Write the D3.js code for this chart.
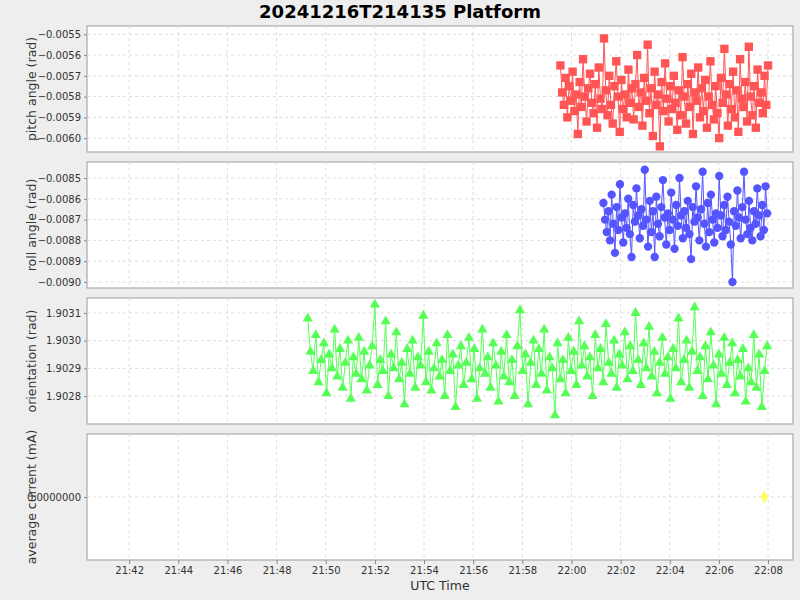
<!DOCTYPE html>
<html><head><meta charset="utf-8">
<script src="https://cdn.jsdelivr.net/npm/d3@7"></script>
<style>body{margin:0;background:#eeeeee;font-family:"DejaVu Sans",sans-serif}</style>
</head><body><svg id="c" width="800" height="600"></svg>
<script>
const title = "20241216T214135 Platform";
const xTicks = ["21:42","21:44","21:46","21:48","21:50","21:52","21:54","21:56","21:58","22:00","22:02","22:04","22:06","22:08"];
const pitchStart = "21:59:33", pitchEnd = "22:08:00";
const pitchValues = [-0.00565,-0.00578,-0.00584,-0.00571,-0.00590,-0.00575,-0.00582,-0.00568,-0.00587,-0.00579,-0.00598,-0.00573,-0.00585,-0.00562,-0.00580,-0.00592,-0.00576,-0.00569,-0.00583,-0.00588,-0.00574,-0.00595,-0.00566,-0.00581,-0.00586,-0.00552,-0.00577,-0.00589,-0.00570,-0.00584,-0.00593,-0.00575,-0.00563,-0.00580,-0.00597,-0.00572,-0.00586,-0.00579,-0.00590,-0.00567,-0.00583,-0.00576,-0.00591,-0.00574,-0.00560,-0.00585,-0.00578,-0.00594,-0.00571,-0.00582,-0.00555,-0.00588,-0.00576,-0.00599,-0.00568,-0.00584,-0.00579,-0.00604,-0.00573,-0.00587,-0.00564,-0.00581,-0.00592,-0.00575,-0.00586,-0.00570,-0.00583,-0.00596,-0.00577,-0.00589,-0.00561,-0.00580,-0.00593,-0.00574,-0.00585,-0.00569,-0.00598,-0.00578,-0.00582,-0.00566,-0.00590,-0.00576,-0.00587,-0.00572,-0.00595,-0.00580,-0.00563,-0.00584,-0.00591,-0.00575,-0.00588,-0.00600,-0.00571,-0.00583,-0.00557,-0.00579,-0.00594,-0.00574,-0.00586,-0.00568,-0.00590,-0.00577,-0.00597,-0.00562,-0.00581,-0.00585,-0.00573,-0.00592,-0.00556,-0.00580,-0.00589,-0.00575,-0.00595,-0.00567,-0.00583,-0.00578,-0.00588,-0.00570,-0.00584,-0.00565];
const rollStart = "22:01:18", rollEnd = "22:07:58";
const rollValues = [-0.00862,-0.00870,-0.00876,-0.00866,-0.00880,-0.00858,-0.00872,-0.00886,-0.00864,-0.00875,-0.00853,-0.00869,-0.00881,-0.00867,-0.00874,-0.00860,-0.00877,-0.00888,-0.00863,-0.00871,-0.00855,-0.00868,-0.00879,-0.00865,-0.00873,-0.00846,-0.00870,-0.00883,-0.00861,-0.00876,-0.00866,-0.00888,-0.00859,-0.00872,-0.00878,-0.00864,-0.00851,-0.00869,-0.00882,-0.00867,-0.00875,-0.00857,-0.00870,-0.00884,-0.00863,-0.00873,-0.00850,-0.00868,-0.00879,-0.00866,-0.00874,-0.00861,-0.00877,-0.00889,-0.00864,-0.00871,-0.00854,-0.00869,-0.00880,-0.00865,-0.00847,-0.00872,-0.00883,-0.00862,-0.00876,-0.00858,-0.00870,-0.00881,-0.00867,-0.00874,-0.00849,-0.00868,-0.00878,-0.00863,-0.00875,-0.00859,-0.00871,-0.00882,-0.00900,-0.00866,-0.00873,-0.00856,-0.00869,-0.00879,-0.00864,-0.00847,-0.00870,-0.00877,-0.00861,-0.00874,-0.00880,-0.00866,-0.00872,-0.00855,-0.00868,-0.00878,-0.00863,-0.00875,-0.00854,-0.00867];
const orientStart = "21:49:16", orientEnd = "22:07:58";
const orientValues = [1.90308,1.90296,1.90289,1.90302,1.90285,1.90293,1.90299,1.90281,1.90295,1.90290,1.90304,1.90287,1.90297,1.90283,1.90292,1.90300,1.90279,1.90294,1.90288,1.90301,1.90286,1.90296,1.90282,1.90291,1.90298,1.90313,1.90284,1.90293,1.90289,1.90307,1.90280,1.90295,1.90290,1.90303,1.90286,1.90292,1.90277,1.90297,1.90288,1.90300,1.90283,1.90294,1.90291,1.90309,1.90285,1.90296,1.90282,1.90290,1.90299,1.90287,1.90293,1.90280,1.90302,1.90289,1.90295,1.90276,1.90291,1.90298,1.90284,1.90292,1.90301,1.90286,1.90297,1.90279,1.90290,1.90304,1.90288,1.90294,1.90283,1.90299,1.90291,1.90278,1.90296,1.90287,1.90302,1.90285,1.90293,1.90280,1.90298,1.90311,1.90289,1.90295,1.90277,1.90292,1.90300,1.90284,1.90297,1.90288,1.90304,1.90282,1.90294,1.90290,1.90273,1.90299,1.90286,1.90293,1.90281,1.90301,1.90289,1.90296,1.90284,1.90307,1.90291,1.90298,1.90287,1.90294,1.90280,1.90302,1.90290,1.90297,1.90285,1.90306,1.90292,1.90288,1.90300,1.90283,1.90295,1.90291,1.90303,1.90286,1.90298,1.90289,1.90310,1.90293,1.90284,1.90299,1.90290,1.90305,1.90287,1.90296,1.90281,1.90292,1.90301,1.90288,1.90294,1.90279,1.90297,1.90290,1.90308,1.90285,1.90293,1.90300,1.90283,1.90296,1.90312,1.90289,1.90294,1.90280,1.90298,1.90286,1.90303,1.90291,1.90277,1.90295,1.90288,1.90301,1.90284,1.90292,1.90299,1.90281,1.90293,1.90287,1.90297,1.90278,1.90290,1.90285,1.90302,1.90283,1.90295,1.90276,1.90289,1.90298];
const currentTime = "22:07:51";
const currentValues = [0];
const yTicks = [
  [-0.0055,-0.0056,-0.0057,-0.0058,-0.0059,-0.0060],
  [-0.0085,-0.0086,-0.0087,-0.0088,-0.0089,-0.0090],
  [1.9031,1.9030,1.9029,1.9028],
  [0]
];
const yDomains = [[-0.006067,-0.00546],[-0.009029,-0.008423],[1.902699,1.903154],[-1,1]];
const yLabels = ["pitch angle (rad)","roll angle (rad)","orientation (rad)","average current (mA)"];
const tickFmt = [d3.format(".4f"),d3.format(".4f"),d3.format(".4f"),d3.format(".7f")];

const svg = d3.select("#c");
const day = "2024-12-16T";
const P = s => new Date(day + (s.length===5? s+":00": s) + "Z");
const spread = (a,b,n) => d3.range(n).map(i => new Date(+P(a) + (P(b)-P(a))*i/(n-1)));
const L = 87, R = 793;
const x = d3.scaleUtc().domain([P("21:40:17"), P("22:09:01")]).range([L, R]);
const panels = [[26,152],[162,288],[298,424],[434,560]];

svg.append("text").attr("x",400).attr("y",18).attr("text-anchor","middle")
  .attr("font-size",18).attr("font-weight","bold").text(title);

const series = [
  {t: spread(pitchStart,pitchEnd,pitchValues.length), v: pitchValues, c:"#ff5555", sym:d3.symbolSquare, sz:70},
  {t: spread(rollStart,rollEnd,rollValues.length), v: rollValues, c:"#5555ff", sym:d3.symbolCircle, sz:55},
  {t: spread(orientStart,orientEnd,orientValues.length), v: orientValues, c:"#55ff55", sym:d3.symbolTriangle, sz:45},
  {t: [P(currentTime)], v: currentValues, c:"#ffff55", sym:d3.symbolDiamond, sz:45}
];

panels.forEach(([top,bot],i) => {
  const y = d3.scaleLinear().domain(yDomains[i]).range([bot,top]);
  const g = svg.append("g");
  g.append("rect").attr("x",L).attr("y",top).attr("width",R-L).attr("height",bot-top)
    .attr("fill","white").attr("stroke","#999");
  const xt = xTicks.map(P);
  g.selectAll(".vx").data(xt).join("line").attr("x1",d=>x(d)).attr("x2",d=>x(d))
    .attr("y1",top).attr("y2",bot).attr("stroke","#ddd").attr("stroke-dasharray","3,3");
  g.selectAll(".hy").data(yTicks[i]).join("line").attr("x1",L).attr("x2",R)
    .attr("y1",d=>y(d)).attr("y2",d=>y(d)).attr("stroke","#ddd").attr("stroke-dasharray","3,3");
  const ya = g.append("g").attr("transform",`translate(${L},0)`)
    .call(d3.axisLeft(y).tickValues(yTicks[i]).tickFormat(tickFmt[i]).tickSize(3));
  ya.select(".domain").remove();
  ya.selectAll("text").attr("font-size",10).attr("font-family","DejaVu Sans").attr("fill","#333");
  ya.selectAll("line").attr("stroke","#888");
  svg.append("text").attr("transform",`translate(36,${(top+bot)/2}) rotate(-90)`)
    .attr("text-anchor","middle").attr("font-size",12.5).attr("fill","#333").text(yLabels[i]);
  const s = series[i];
  const pts = s.t.map((t,j)=>[x(t), y(s.v[j])]);
  g.append("path").attr("d",d3.line()(pts)).attr("fill","none").attr("stroke",s.c).attr("stroke-width",1);
  g.selectAll(".m").data(pts).join("path").attr("transform",d=>`translate(${d[0]},${d[1]})`)
    .attr("d",d3.symbol().type(s.sym).size(s.sz)).attr("fill",s.c);
  if (i===3) {
    const xa = svg.append("g").attr("transform",`translate(0,${bot})`)
      .call(d3.axisBottom(x).tickValues(xt).tickFormat(d3.utcFormat("%H:%M")).tickSize(4));
    xa.select(".domain").remove();
    xa.selectAll("text").attr("font-size",10).attr("font-family","DejaVu Sans").attr("fill","#333");
    xa.selectAll("line").attr("stroke","#888");
  }
});
svg.append("text").attr("x",440).attr("y",590).attr("text-anchor","middle").attr("font-size",12.5).attr("fill","#333").text("UTC Time");
</script></body></html>
